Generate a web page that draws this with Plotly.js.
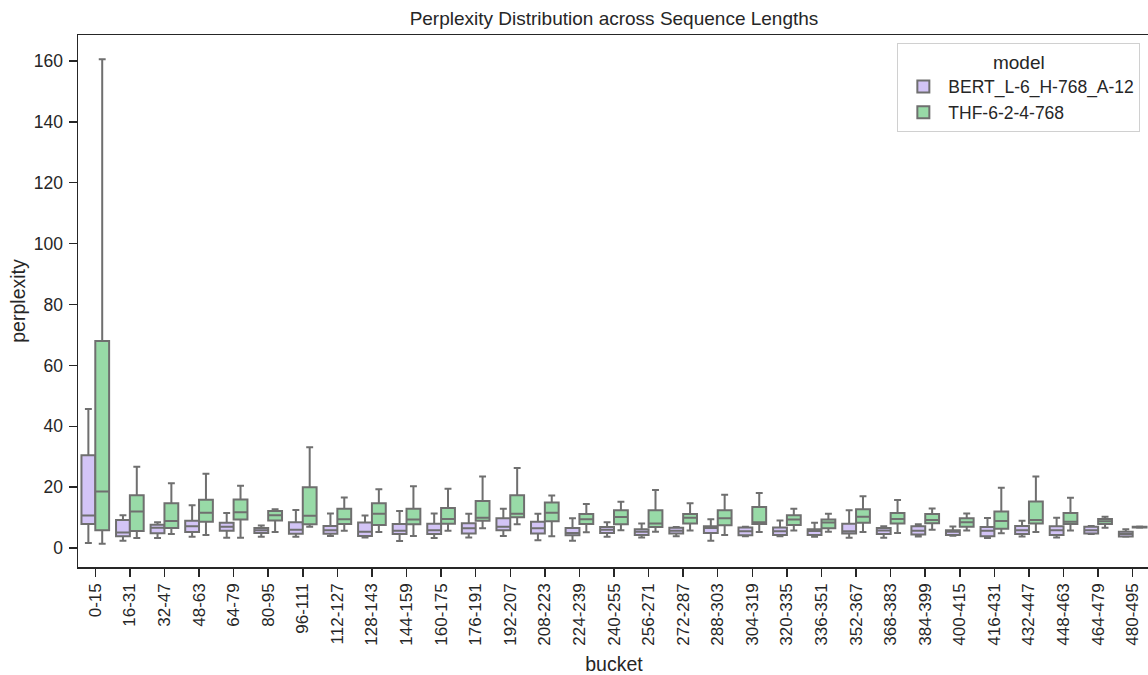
<!DOCTYPE html>
<html>
<head>
<meta charset="utf-8">
<script src="https://cdn.plot.ly/plotly-3.0.1.min.js"></script>
<style>
html,body{margin:0;padding:0;overflow:hidden;background:#fff;}
#chart{width:1152px;height:675px;}
</style>
</head>
<body>
<div id="chart"></div>
<script>
const buckets = ["0-15","16-31","32-47","48-63","64-79","80-95","96-111","112-127","128-143","144-159","160-175","176-191","192-207","208-223","224-239","240-255","256-271","272-287","288-303","304-319","320-335","336-351","352-367","368-383","384-399","400-415","416-431","432-447","448-463","464-479","480-495"];

const modelNames = ["BERT_L-6_H-768_A-12", "THF-6-2-4-768"];

// BERT_L-6_H-768_A-12
const bertLower  = [1.7,2.4,3.3,3.7,3.4,3.7,3.7,4.0,3.5,2.3,3.3,3.5,4.0,2.6,2.4,3.7,3.5,3.9,2.4,3.9,3.9,3.7,3.4,3.4,3.8,4.1,3.3,3.8,3.5,4.6,3.7];
const bertQ1     = [7.9,3.9,4.9,5.3,5.7,5.0,4.7,4.7,4.0,4.6,4.6,4.8,5.9,4.8,4.2,5.0,4.3,4.8,5.0,4.2,4.3,4.3,4.8,4.6,4.5,4.3,3.9,4.6,4.3,4.8,3.8];
const bertMedian = [10.7,5.1,6.7,7.2,7.0,5.9,6.0,5.9,5.4,5.7,5.9,6.5,7.0,6.5,5.0,6.0,5.4,5.7,6.6,5.5,5.5,5.6,5.5,5.8,5.7,5.4,5.7,5.9,5.9,5.9,4.6];
const bertQ3     = [30.5,9.2,7.7,9.0,8.3,6.6,8.5,7.3,8.4,7.9,8.0,8.2,9.8,8.7,6.6,6.9,6.2,6.7,7.2,6.8,6.8,6.2,8.0,6.6,7.2,5.9,6.9,7.3,7.2,7.0,5.4];
const bertUpper  = [45.7,10.8,8.5,14.1,11.5,7.4,12.5,11.4,10.7,12.2,11.4,11.3,12.9,11.3,9.8,8.5,8.1,6.9,9.5,7.0,9.1,8.3,12.4,7.2,7.8,7.1,9.9,9.0,10.0,7.3,6.2];

// THF-6-2-4-768
const thfLower  = [1.4,3.3,4.6,4.3,3.4,5.3,7.0,5.7,5.3,4.0,5.7,6.5,7.8,3.9,5.2,5.9,5.4,5.8,4.3,5.3,5.8,5.4,5.3,5.0,6.0,5.8,4.9,5.3,5.8,6.7,6.7];
const thfQ1     = [5.9,5.6,6.6,8.7,9.4,9.1,7.8,7.9,7.6,7.8,8.0,9.0,10.1,8.8,7.9,7.8,6.9,8.1,7.5,7.9,7.6,6.5,8.3,8.1,8.2,7.0,6.4,8.1,7.9,7.9,6.8];
const thfMedian = [18.6,12.0,8.9,11.6,11.8,10.8,10.6,9.5,11.3,9.4,9.6,10.0,11.3,11.6,9.5,10.2,8.1,10.0,9.8,8.5,9.4,8.4,10.3,9.6,9.2,8.5,8.9,9.2,8.7,8.8,6.9];
const thfQ3     = [68.0,17.4,14.7,15.9,16.0,12.2,20.0,12.9,14.7,12.9,13.2,15.5,17.4,15.0,11.2,12.4,12.4,11.2,12.4,13.5,10.8,9.4,12.8,11.5,11.2,9.8,12.0,15.3,11.5,9.6,7.0];
const thfUpper  = [160.5,26.7,21.3,24.4,20.5,12.8,33.1,16.6,19.3,20.3,19.5,23.5,26.3,17.3,14.5,15.2,19.1,14.7,17.5,18.1,12.9,11.3,17.0,15.8,13.0,11.4,19.8,23.5,16.5,10.3,7.1];

const fillColors = ["#d3c4f6", "#98daa7"];
const lineGray = "#6f6f6f";
const FONT = "Liberation Sans, Arial, Helvetica, sans-serif";

function makeBox(name, lower, q1, med, q3, upper, fill) {
  return {
    type: "box",
    name: name,
    x: buckets,
    lowerfence: lower,
    q1: q1,
    median: med,
    q3: q3,
    upperfence: upper,
    boxpoints: false,
    fillcolor: fill,
    line: {color: lineGray, width: 2},
    whiskerwidth: 0.5,
    hoverinfo: "skip"
  };
}

const data = [
  makeBox(modelNames[0], bertLower, bertQ1, bertMedian, bertQ3, bertUpper, fillColors[0]),
  makeBox(modelNames[1], thfLower, thfQ1, thfMedian, thfQ3, thfUpper, fillColors[1])
];

const layout = {
  width: 1152,
  height: 675,
  margin: {l: 78, r: 2, t: 35, b: 108},
  paper_bgcolor: "#ffffff",
  plot_bgcolor: "#ffffff",
  font: {family: FONT, size: 17, color: "#262626"},
  title: {
    text: "Perplexity Distribution across Sequence Lengths",
    font: {family: FONT, size: 19, color: "#262626"},
    x: 0.5, xref: "paper", xanchor: "center",
    y: 1 - 18/675, yref: "container", yanchor: "middle"
  },
  boxmode: "group",
  boxgap: 0.2,
  boxgroupgap: 0,
  showlegend: true,
  legend: {
    x: 0.991, xanchor: "right",
    y: 0.985, yanchor: "top",
    bgcolor: "#ffffff",
    bordercolor: "#d0d0d0",
    borderwidth: 1,
    itemwidth: 40,
    font: {family: FONT, size: 17.5, color: "#262626"},
    title: {text: "model", side: "top center", font: {family: FONT, size: 19, color: "#262626"}},
    tracegroupgap: 2
  },
  xaxis: {
    type: "category",
    range: [-0.5, 30.5],
    showline: true, linecolor: "#262626", linewidth: 1.5,
    mirror: true,
    ticks: "outside", ticklen: 8, tickwidth: 1.5, tickcolor: "#262626",
    tickangle: -90,
    tickfont: {family: FONT, size: 17, color: "#262626"},
    showgrid: false, zeroline: false,
    title: {text: "bucket", font: {family: FONT, size: 19.5, color: "#262626"}, standoff: 40}
  },
  yaxis: {
    range: [-6.2, 168.5],
    tickvals: [0, 20, 40, 60, 80, 100, 120, 140, 160],
    showline: true, linecolor: "#262626", linewidth: 1.5,
    mirror: true,
    ticks: "outside", ticklen: 8, tickwidth: 1.5, tickcolor: "#262626",
    ticklabelstandoff: 2,
    tickfont: {family: FONT, size: 17.5, color: "#262626"},
    showgrid: false, zeroline: false,
    title: {text: "perplexity", font: {family: FONT, size: 19.5, color: "#262626"}, standoff: 3}
  }
};

Plotly.newPlot("chart", data, layout, {displayModeBar: false, staticPlot: true});
</script>
</body>
</html>
